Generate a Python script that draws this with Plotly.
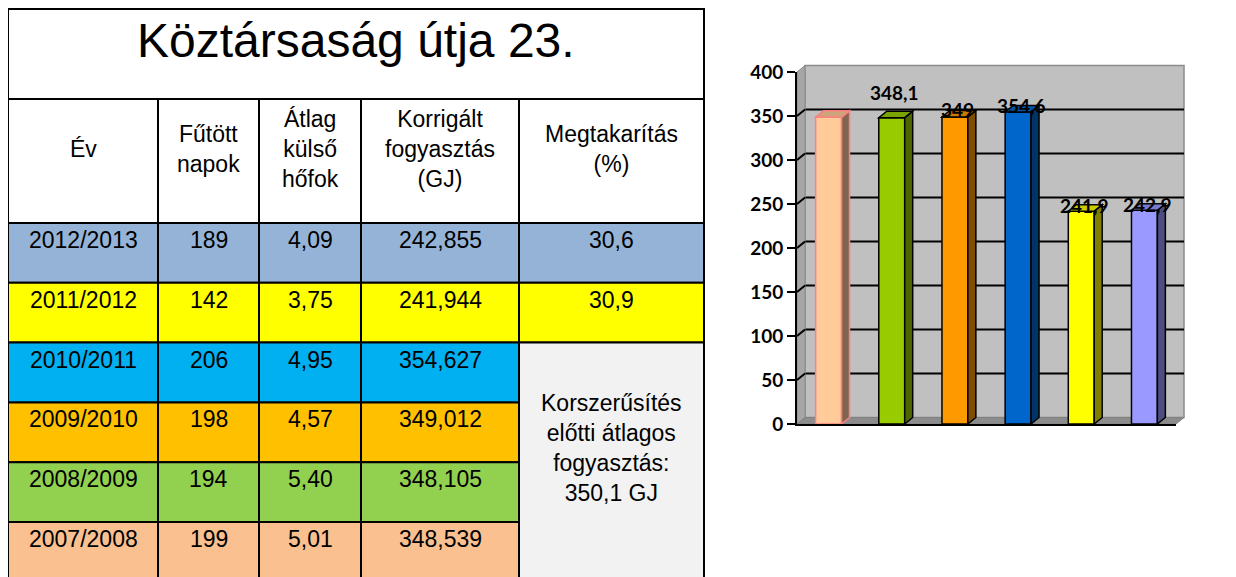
import plotly.graph_objects as go

W, H = 1236, 577
OFF = 8  # page body margin: screen px = figure px + OFF

# ---------------- data ----------------
title = "Köztársaság útja 23."
headers = ["Év", "Fűtött<br>napok", "Átlag<br>külső<br>hőfok",
           "Korrigált<br>fogyasztás<br>(GJ)", "Megtakarítás<br>(%)"]
years = ["2012/2013", "2011/2012", "2010/2011", "2009/2010", "2008/2009", "2007/2008"]
heated_days = ["189", "142", "206", "198", "194", "199"]
avg_temp = ["4,09", "3,75", "4,95", "4,57", "5,40", "5,01"]
corrected = ["242,855", "241,944", "354,627", "349,012", "348,105", "348,539"]
savings = ["30,6", "30,9"]
note = "Korszerűsítés<br>előtti átlagos<br>fogyasztás:<br>350,1 GJ"
row_colors = ["#95B3D7", "#FFFF00", "#00B0F0", "#FFC000", "#92D050", "#FAC090"]
note_color = "#F2F2F2"

bar_categories = ["2007/2008", "2008/2009", "2009/2010", "2010/2011", "2011/2012", "2012/2013"]
bar_values = [348.5, 348.1, 349.0, 354.6, 241.9, 242.9]
bar_labels = ["", "348,1", "349", "354,6", "241,9", "242,9"]
bar_front = ["#FFCC99", "#99CC00", "#FF9900", "#0066CC", "#FFFF00", "#9999FF"]
bar_side = ["#806650", "#4D6600", "#804D00", "#003366", "#808000", "#4D4D80"]
bar_topc = ["#CCA37A", "#7AA300", "#CC7A00", "#0052A3", "#CCCC00", "#7A7ACC"]
bar_edge = ["#FF8080", "#000000", "#000000", "#000000", "#000000", "#000000"]
y_ticks = [0, 50, 100, 150, 200, 250, 300, 350, 400]

# ---------------- layout constants (screen px) ----------------
TBL_X0, TBL_Y0 = 8, 9
COL_W = [150, 101, 102, 158, 185]
TITLE_H, HEAD_H, ROW_H = 90, 124, 59.8
TBL_FONT = "Liberation Sans, Arial, sans-serif"
LW = 2
TBL_AREA = 720

F_L, F_R, F_T, F_B = 797, 1176, 72, 424   # front plot area
DX, DY = 8, 6.5                          # 3D depth
Y_MAX = 400
BAR_W = 0.41
CHART_FONT = "Lato, Calibri, sans-serif"


def fx(sx):
    return (sx - OFF) / W


def fy(sy):
    return 1 - (sy - OFF) / H


n = len(bar_values)
col_x = [TBL_X0]
for w in COL_W:
    col_x.append(col_x[-1] + w)
TBL_X1 = col_x[-1]
head_y0 = TBL_Y0 + TITLE_H
rows_y0 = head_y0 + HEAD_H
row_y = [rows_y0 + i * ROW_H for i in range(len(years) + 1)]

fig = go.Figure()

# ---------------- bar chart ----------------
fig.add_trace(go.Bar(
    x=list(range(n)), y=bar_values, width=BAR_W, xaxis="x", yaxis="y",
    marker=dict(color=bar_front, line=dict(color=bar_edge, width=1.5)),
    hovertext=bar_categories, showlegend=False,
))

shapes = []
annotations = []

dxd = DX / (F_R - F_L)
dyd = DY / (F_B - F_T)
# back wall
shapes.append(dict(type="rect", xref="x domain", yref="y domain",
                   x0=dxd, x1=1 + dxd, y0=dyd, y1=1 + dyd,
                   fillcolor="#C0C0C0", line=dict(color="#8C8C8C", width=1.5), layer="below"))
# back wall grid lines
for t in y_ticks[1:-1]:
    f = t / Y_MAX
    shapes.append(dict(type="line", xref="x domain", yref="y domain",
                       x0=dxd, y0=f + dyd, x1=1 + dxd, y1=f + dyd,
                       line=dict(color="black", width=2), layer="below"))
# side wall
shapes.append(dict(type="path", xref="x domain", yref="y domain",
                   path=f"M 0,0 L 0,1 L {dxd},{1 + dyd} L {dxd},{dyd} Z",
                   fillcolor="#A6A6A6", line=dict(color="#8C8C8C", width=1), layer="below"))
# floor
shapes.append(dict(type="path", xref="x domain", yref="y domain",
                   path=f"M 0,0 L 1,0 L {1 + dxd},{dyd} L {dxd},{dyd} Z",
                   fillcolor="#8C8C8C", line=dict(color="#808080", width=1), layer="below"))
# side wall grid lines
for t in y_ticks[1:-1]:
    f = t / Y_MAX
    shapes.append(dict(type="line", xref="x domain", yref="y domain",
                       x0=0, y0=f, x1=dxd, y1=f + dyd,
                       line=dict(color="black", width=2), layer="below"))

# 3D faces of bars
dxu = DX / ((F_R - F_L) / n)
dyu = DY / ((F_B - F_T) / Y_MAX)
for i, v in enumerate(bar_values):
    xl, xr = i - BAR_W / 2, i + BAR_W / 2
    shapes.append(dict(type="path", xref="x", yref="y",
                       path=f"M {xr},0 L {xr + dxu},{dyu} L {xr + dxu},{v + dyu} L {xr},{v} Z",
                       fillcolor=bar_side[i], line=dict(color=bar_edge[i], width=1.5)))
    shapes.append(dict(type="path", xref="x", yref="y",
                       path=f"M {xl},{v} L {xr},{v} L {xr + dxu},{v + dyu} L {xl + dxu},{v + dyu} Z",
                       fillcolor=bar_topc[i], line=dict(color=bar_edge[i], width=1.5)))

label_lift = [0, 25, 7, 6, 6, 6]
for i, (v, lab) in enumerate(zip(bar_values, bar_labels)):
    if lab:
        annotations.append(dict(x=i, y=v, xref="x", yref="y", text=f"<b>{lab}</b>",
                                showarrow=False, yanchor="middle", xshift=3, yshift=label_lift[i],
                                font=dict(family=CHART_FONT, size=19, color="black")))

# ---------------- table ----------------
def cell(x0, x1, y0, y1, fill):
    shapes.append(dict(type="rect", xref="x2", yref="y2", x0=x0, x1=x1, y0=y0, y1=y1,
                       fillcolor=fill, line=dict(color="black", width=LW), layer="below"))


def txt(x, y, s, size=23, anchor="top"):
    annotations.append(dict(x=x, y=y, xref="x2", yref="y2", text=s, showarrow=False,
                            yanchor=anchor, xanchor="center",
                            font=dict(family=TBL_FONT, size=size, color="black")))


cell(TBL_X0, TBL_X1, TBL_Y0, head_y0, "white")
txt((TBL_X0 + TBL_X1) / 2, TBL_Y0 + 31, title, size=48, anchor="middle")
for c, h in enumerate(headers):
    cell(col_x[c], col_x[c + 1], head_y0, rows_y0, "white")
    txt((col_x[c] + col_x[c + 1]) / 2, head_y0 + 50, h, anchor="middle")
columns = [years, heated_days, avg_temp, corrected]
for r in range(len(years)):
    for c, colvals in enumerate(columns):
        cell(col_x[c], col_x[c + 1], row_y[r], row_y[r + 1], row_colors[r])
        txt((col_x[c] + col_x[c + 1]) / 2, row_y[r] + 2, colvals[r])
for r, s in enumerate(savings):
    cell(col_x[4], col_x[5], row_y[r], row_y[r + 1], row_colors[r])
    txt((col_x[4] + col_x[5]) / 2, row_y[r] + 2, s)
cell(col_x[4], col_x[5], row_y[len(savings)], row_y[-1], note_color)
txt((col_x[4] + col_x[5]) / 2, (row_y[len(savings)] + row_y[-1]) / 2 - 14, note, anchor="middle")

fig.add_trace(go.Scatter(x=[TBL_AREA / 2], y=[H / 2], xaxis="x2", yaxis="y2", mode="markers",
                         marker=dict(opacity=0), hoverinfo="skip", showlegend=False))

fig.update_layout(
    width=W, height=H, margin=dict(l=0, r=0, t=0, b=0, autoexpand=False),
    paper_bgcolor="white", plot_bgcolor="rgba(0,0,0,0)",
    shapes=shapes, annotations=annotations, showlegend=False,
    xaxis=dict(domain=[fx(F_L), fx(F_R)], range=[-0.5, n - 0.5], showticklabels=False,
               ticks="", showgrid=False, zeroline=False, showline=True, linecolor="black",
               linewidth=2, anchor="y", fixedrange=True, automargin=False),
    yaxis=dict(domain=[fy(F_B), fy(F_T)], range=[0, Y_MAX], tickvals=y_ticks,
               ticks="outside", ticklen=8, tickwidth=2, tickcolor="black",
               showline=True, linecolor="black", linewidth=2, showgrid=False, zeroline=False,
               tickfont=dict(family=CHART_FONT, size=19, color="black", weight="bold"),
               anchor="x", fixedrange=True, automargin=False),
    xaxis2=dict(domain=[0, TBL_AREA / W], range=[OFF, OFF + TBL_AREA], visible=False,
                anchor="y2", fixedrange=True, automargin=False),
    yaxis2=dict(domain=[0, 1], range=[OFF + H, OFF], visible=False, anchor="x2",
                fixedrange=True, automargin=False),
)

fig.write_html("out.html")
